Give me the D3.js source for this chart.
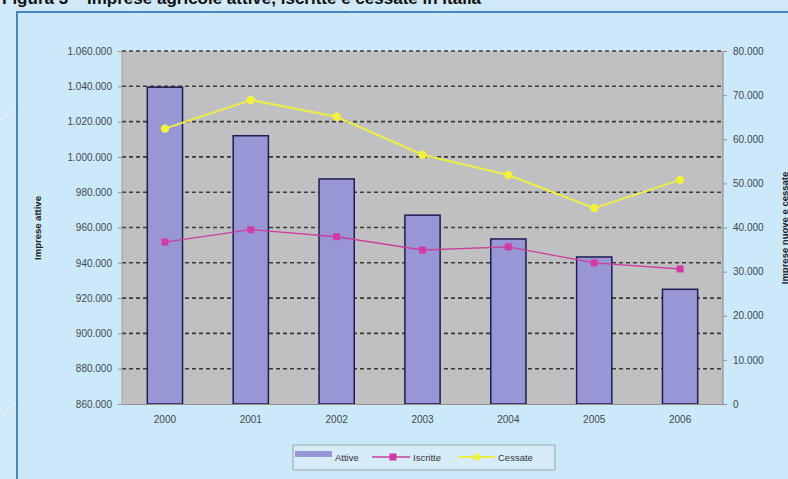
<!DOCTYPE html>
<html>
<head>
<meta charset="utf-8">
<script src="https://cdn.jsdelivr.net/npm/d3@7"></script>
<style>
  body { margin: 0; background: #cfe9f8; }
  svg { display: block; }
</style>
</head>
<body>
<svg id="chart" width="788" height="479"></svg>
<script>
const years = ['2000', '2001', '2002', '2003', '2004', '2005', '2006'];
const attive = [1039500, 1012000, 987500, 967000, 953500, 943300, 925000];
const iscritte = [36700, 39500, 37900, 34900, 35600, 32000, 30600];
const cessate = [62400, 68900, 65100, 56500, 51900, 44400, 50800];
const leftTicks = d3.range(860000, 1060001, 20000);
const rightTicks = d3.range(0, 80001, 10000);

const fmt = v => d3.format(',')(v).replace(/,/g, '.');

const svg = d3.select('#chart');
const W = 788, H = 479;
const m = { left: 122, right: 723, top: 51, bottom: 404 };

// page background + faint swirls
svg.append('rect').attr('width', W).attr('height', H).attr('fill', '#cfe9f8');
const swirl = svg.append('g').attr('fill', 'none').attr('stroke', '#ffffff')
  .attr('stroke-opacity', 0.45).attr('stroke-width', 1.2);
swirl.append('path').attr('d', 'M0,120 C30,100 60,60 40,20');
swirl.append('path').attr('d', 'M0,420 C10,400 30,395 45,405');
swirl.append('path').attr('d', 'M120,0 C150,30 200,20 230,0');
swirl.append('path').attr('d', 'M330,0 C360,20 420,25 470,0');

// title, mostly cut off at top (as in the source image)
svg.append('text')
  .attr('x', 2).attr('y', 4)
  .attr('font-family', 'Arial, Liberation Sans, sans-serif')
  .attr('font-weight', 'bold').attr('font-size', '17px')
  .attr('fill', '#111')
  .text('Figura 3 – Imprese agricole attive, iscritte e cessate in Italia');

// frame
svg.append('rect')
  .attr('x', 17).attr('y', 12).attr('width', W).attr('height', H)
  .attr('fill', '#cce9f9').attr('stroke', '#2a6cb0').attr('stroke-width', 1.6);

const x = d3.scaleBand().domain(years).range([m.left, m.right]).paddingInner(0.59).paddingOuter(0.295);
const yL = d3.scaleLinear().domain([860000, 1060000]).range([m.bottom, m.top]);
const yR = d3.scaleLinear().domain([0, 80000]).range([m.bottom, m.top]);

// plot area
svg.append('rect')
  .attr('x', m.left).attr('y', m.top)
  .attr('width', m.right - m.left).attr('height', m.bottom - m.top)
  .attr('fill', '#c0c0c2');

// gridlines
svg.append('g').selectAll('line')
  .data(leftTicks.filter(d => d > 860000))
  .join('line')
  .attr('x1', m.left).attr('x2', m.right)
  .attr('y1', d => yL(d)).attr('y2', d => yL(d))
  .attr('stroke', '#3a3a3a').attr('stroke-width', 1.6)
  .attr('stroke-dasharray', '4,3');

// plot borders
svg.append('line').attr('x1', m.right).attr('x2', m.right)
  .attr('y1', m.top).attr('y2', m.bottom).attr('stroke', '#8a8a8a');
svg.append('line').attr('x1', m.left).attr('x2', m.left)
  .attr('y1', m.top).attr('y2', m.bottom).attr('stroke', '#a0a0a0');

// bars
svg.append('g').selectAll('rect')
  .data(attive)
  .join('rect')
  .attr('x', (d, i) => x(years[i]))
  .attr('y', d => yL(d))
  .attr('width', x.bandwidth())
  .attr('height', d => m.bottom - yL(d))
  .attr('fill', '#9996d6')
  .attr('stroke', '#1c1c50').attr('stroke-width', 1.5);

// axes
const font = 'Arial, Liberation Sans, sans-serif';
const axL = svg.append('g')
  .attr('transform', `translate(${m.left},0)`)
  .call(d3.axisLeft(yL).tickValues(leftTicks).tickFormat(fmt).tickSize(4).tickPadding(6));
const axR = svg.append('g')
  .attr('transform', `translate(${m.right},0)`)
  .call(d3.axisRight(yR).tickValues(rightTicks).tickFormat(fmt).tickSize(4).tickPadding(6));
const axB = svg.append('g')
  .attr('transform', `translate(0,${m.bottom})`)
  .call(d3.axisBottom(x).tickSize(0).tickPadding(12));
[axL, axR, axB].forEach(a => {
  a.selectAll('text').attr('font-family', font).attr('font-size', '10px').attr('fill', '#404850');
  a.selectAll('line').attr('stroke', '#909090');
  a.select('.domain').attr('stroke', '#909090');
});
axL.select('.domain').remove();
axR.select('.domain').remove();

// lines
const line = (vals) => d3.line()
  .x((d, i) => x(years[i]) + x.bandwidth() / 2)
  .y(d => yR(d))(vals);

svg.append('path').attr('d', line(iscritte))
  .attr('fill', 'none').attr('stroke', '#c8409a').attr('stroke-width', 1.3);
svg.append('g').selectAll('rect')
  .data(iscritte)
  .join('rect')
  .attr('x', (d, i) => x(years[i]) + x.bandwidth() / 2 - 3.5)
  .attr('y', d => yR(d) - 3.5)
  .attr('width', 7).attr('height', 7)
  .attr('fill', '#d23aa8');

svg.append('path').attr('d', line(cessate))
  .attr('fill', 'none').attr('stroke', '#eded4a').attr('stroke-width', 2);
svg.append('g').selectAll('circle')
  .data(cessate)
  .join('circle')
  .attr('cx', (d, i) => x(years[i]) + x.bandwidth() / 2)
  .attr('cy', d => yR(d))
  .attr('r', 4.2)
  .attr('fill', '#f2f23c');

// axis titles
svg.append('text')
  .attr('transform', 'translate(41,228) rotate(-90)')
  .attr('text-anchor', 'middle')
  .attr('font-family', font).attr('font-weight', 'bold').attr('font-size', '9.5px')
  .attr('fill', '#222')
  .text('Imprese attive');
svg.append('text')
  .attr('transform', 'translate(788,228) rotate(-90)')
  .attr('text-anchor', 'middle')
  .attr('font-family', font).attr('font-weight', 'bold').attr('font-size', '9.5px')
  .attr('fill', '#222')
  .text('Imprese nuove e cessate');

// legend
const lg = svg.append('g');
lg.append('rect')
  .attr('x', 293).attr('y', 445).attr('width', 262).attr('height', 25)
  .attr('fill', '#d6ecf8').attr('stroke', '#9aa4ac').attr('stroke-width', 1);
lg.append('rect').attr('x', 295).attr('y', 451).attr('width', 37).attr('height', 6)
  .attr('fill', '#9996d6');
lg.append('line').attr('x1', 372).attr('x2', 410).attr('y1', 457).attr('y2', 457)
  .attr('stroke', '#c8409a').attr('stroke-width', 1.3);
lg.append('rect').attr('x', 389.5).attr('y', 453.5).attr('width', 7).attr('height', 7)
  .attr('fill', '#d23aa8');
lg.append('line').attr('x1', 458).attr('x2', 495).attr('y1', 457).attr('y2', 457)
  .attr('stroke', '#eded4a').attr('stroke-width', 2);
lg.append('circle').attr('cx', 477).attr('cy', 457).attr('r', 3.5).attr('fill', '#f2f23c');
const legendText = [['Attive', 335], ['Iscritte', 413], ['Cessate', 498]];
lg.selectAll('text.lt')
  .data(legendText)
  .join('text')
  .attr('class', 'lt')
  .attr('x', d => d[1]).attr('y', 460.5)
  .attr('font-family', font).attr('font-size', '9.5px').attr('fill', '#333')
  .text(d => d[0]);
</script>
</body>
</html>
